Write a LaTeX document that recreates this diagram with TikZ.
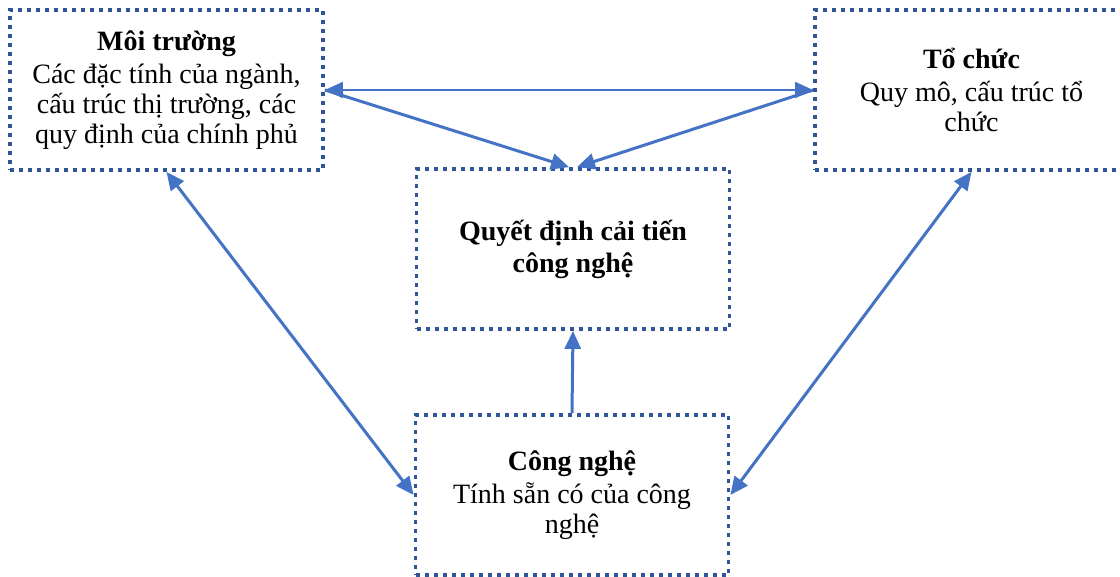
\documentclass[tikz,border=0pt]{standalone}
\usepackage{fontspec}
\setmainfont{Liberation Serif}
\usetikzlibrary{arrows.meta}

\definecolor{boxblue}{HTML}{2F5597}
\definecolor{arrowblue}{HTML}{4472C4}

\begin{document}
\begin{tikzpicture}[x=0.5pt, y=-0.5pt,
    every node/.style={font=\fontsize{14}{15}\selectfont, align=center},
    factor/.style={draw=boxblue, line width=1.9pt, dash pattern=on 2pt off 2.5pt,
      minimum width=156.5pt, minimum height=80pt, inner sep=0pt},
    link/.style={draw=arrowblue, line width=1.5pt, -{Triangle[length=9pt,width=8pt]}},
    twoway/.style={link, {Triangle[length=9pt,width=8pt]}-{Triangle[length=9pt,width=8pt]}}]
      \useasboundingbox (0,0) rectangle (1120,577);
      \clip (0,0) rectangle (1120,577);
      % the four boxes
      \node[factor] (env) at (166.5, 90) {\textbf{Môi trường}\\[1.5pt]Các đặc tính của ngành,\\cấu trúc thị trường, các\\quy định của chính phủ};
      \node[factor] (org) at (971.5, 90) {\textbf{Tổ chức}\\[1.5pt]Quy mô, cấu trúc tổ\\chức};
      \node[factor] (dec) at (573, 249) {\textbf{Quyết định cải tiến}\\[1pt]\textbf{công nghệ}};
      \node[factor] (tech) at (572, 495) {\textbf{Công nghệ}\\[1.5pt]Tính sẵn có của công\\nghệ};
      % links
      \draw[twoway, line width=1pt] (env.east) -- (org.west);
      \draw[link] (env.east) -- ([xshift=-2pt]dec.north);
      \draw[link] (org.west) -- ([xshift=2pt]dec.north);
      \draw[twoway] (env.south) -- (tech.west);
      \draw[twoway] (org.south) -- (tech.east);
      \draw[link] (tech.north) -- (dec.south);
    \end{tikzpicture}
\end{document}
